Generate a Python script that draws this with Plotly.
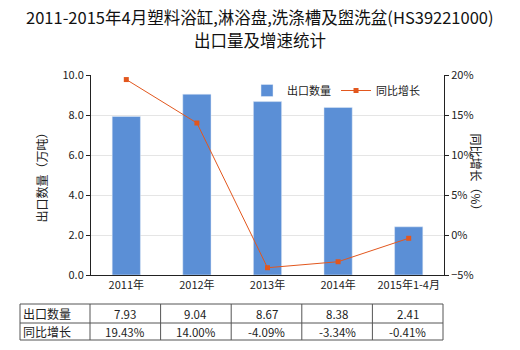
import plotly.graph_objects as go

categories = ["2011年", "2012年", "2013年", "2014年", "2015年1-4月"]
export_qty = [7.93, 9.04, 8.67, 8.38, 2.41]
yoy_growth = [19.43, 14.00, -4.09, -3.34, -0.41]
qty_labels = ["7.93", "9.04", "8.67", "8.38", "2.41"]
growth_labels = ["19.43%", "14.00%", "-4.09%", "-3.34%", "-0.41%"]
row_names = ["出口数量", "同比增长"]
title_lines = ["2011-2015年4月塑料浴缸,淋浴盘,洗涤槽及盥洗盆(HS39221000)", "出口量及增速统计"]

FONT = "Noto Sans CJK SC, Microsoft YaHei, sans-serif"
BAR_C = "#5B8FD6"
LINE_C = "#E2571E"

W, H = 520, 350
L, R, T, B = 91, 76, 75, 75

fig = go.Figure()
fig.add_trace(go.Bar(x=categories, y=export_qty, name="出口数量",
                     marker_color=BAR_C, width=0.4, yaxis="y"))
fig.add_trace(go.Scatter(x=categories, y=yoy_growth, name="同比增长", yaxis="y2",
                         mode="lines+markers",
                         line=dict(color=LINE_C, width=1),
                         marker=dict(symbol="square", size=5, color=LINE_C)))

fig.update_layout(
    width=W, height=H,
    margin=dict(l=L, r=R, t=T, b=B),
    paper_bgcolor="white", plot_bgcolor="white",
    font=dict(family=FONT, size=11, color="#222"),
    showlegend=True,
    legend=dict(orientation="h", x=0.442, y=0.995, xanchor="left", yanchor="top",
                font=dict(size=11), bgcolor="rgba(0,0,0,0)",
                entrywidth=44, entrywidthmode="pixels"),
    xaxis=dict(showline=True, linecolor="#222", ticks="", tickfont=dict(size=11),
               range=[-0.5, 4.5]),
    yaxis=dict(range=[0, 10], dtick=2, tickformat=".1f", showline=True,
               linecolor="#222", ticks="outside", ticklen=4, tickcolor="#222",
               gridcolor="#E5E5E5", zeroline=False, tickfont=dict(size=11)),
    yaxis2=dict(range=[-5, 20], dtick=5, ticksuffix="%", overlaying="y",
                side="right", showline=True, linecolor="#222", ticks="outside",
                ticklen=4, tickcolor="#222", showgrid=False, zeroline=False,
                tickfont=dict(size=11)),
    bargap=0.6,
)

pw, ph = W - L - R, H - T - B
def px_x(v):
    return (v - L) / pw
def px_y(v):
    return (H - B - v) / ph

annotations = []
for yc, line in zip([17, 40], title_lines):
    annotations.append(dict(text=line, xref="paper", yref="paper", x=px_x(W / 2), y=px_y(yc),
                            xanchor="center", yanchor="middle", showarrow=False,
                            font=dict(size=16.5, color="#111")))
annotations += [
    dict(text="出口数量（万吨）", xref="paper", yref="paper",
         x=px_x(30), y=0.5, textangle=-90, showarrow=False,
         font=dict(size=12, color="#222")),
    dict(text="同比增长（%）", xref="paper", yref="paper",
         x=px_x(487), y=0.5, textangle=90, showarrow=False,
         font=dict(size=12, color="#222")),
]

# Data table below the chart
tab_left, label_right, tab_right = 20, 90, 443
row_tops = [304, 323, 340]
ncat = len(categories)
col_w = (tab_right - label_right) / ncat
col_edges = [tab_left, label_right] + [label_right + col_w * (i + 1) for i in range(ncat)]
shapes = []
for yv in row_tops:
    shapes.append(dict(type="line", xref="paper", yref="paper",
                       x0=px_x(tab_left), x1=px_x(tab_right), y0=px_y(yv), y1=px_y(yv),
                       line=dict(color="#555", width=1)))
for xv in col_edges:
    shapes.append(dict(type="line", xref="paper", yref="paper",
                       x0=px_x(xv), x1=px_x(xv), y0=px_y(row_tops[0]), y1=px_y(row_tops[-1]),
                       line=dict(color="#555", width=1)))

rows = [qty_labels, growth_labels]
for r, (name, vals) in enumerate(zip(row_names, rows)):
    yc = (row_tops[r] + row_tops[r + 1]) / 2
    annotations.append(dict(text=name, xref="paper", yref="paper", x=px_x(tab_left + 1),
                            y=px_y(yc), xanchor="left", yanchor="middle", showarrow=False,
                            font=dict(size=12, color="#222")))
    for i, v in enumerate(vals):
        xc = label_right + col_w * (i + 0.5)
        annotations.append(dict(text=v, xref="paper", yref="paper", x=px_x(xc),
                                y=px_y(yc), xanchor="center", yanchor="middle",
                                showarrow=False, font=dict(size=11.5, color="#222")))

fig.update_layout(shapes=shapes, annotations=annotations)
fig.write_html("out.html")
